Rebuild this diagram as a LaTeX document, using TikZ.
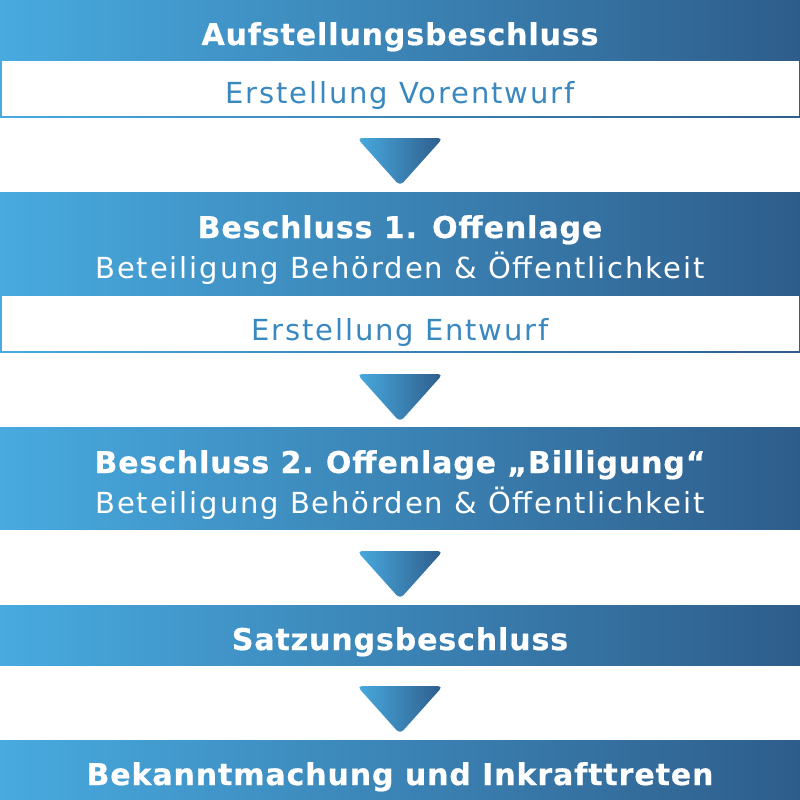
\documentclass[tikz,border=0pt]{standalone}
\usepackage{fontspec}
\setmainfont{DejaVu Sans}
\newfontfamily\headfont[LetterSpace=3.0,BoldFeatures={FakeBold=0.6}]{DejaVu Sans}
\newfontfamily\subfont[LetterSpace=6.5]{DejaVu Sans}
\definecolor{gl}{HTML}{48AADF}
\definecolor{gd}{HTML}{2E5D8B}
\definecolor{tb}{HTML}{3A88C0}
\tikzset{
  bar/.style={left color=gl,right color=gd,minimum width=800,minimum height=#1,
    inner sep=0,outer sep=0,anchor=north,draw=none},
  whitebox/.style={fill=white,minimum width=797,minimum height=#1,inner sep=0,
    outer sep=0,anchor=north,draw=none},
  headtxt/.style={anchor=base,inner sep=0,text=white,font=\headfont\bfseries\fontsize{30}{36}\selectfont},
  subtxt/.style={anchor=base,inner sep=0,text=white,font=\subfont\fontsize{29}{34}\selectfont},
  boxtxt/.style={anchor=base,inner sep=0,text=tb,font=\subfont\fontsize{29}{34}\selectfont},
  downarrow/.style={left color=gl,right color=gd,rounded corners=5}
}
\begin{document}
\begin{tikzpicture}[x=1pt,y=-1pt]
\useasboundingbox (0,0) rectangle (800,800);
% step 1
\node[bar=60] (b1) at (400,0) {};
\node[headtxt] (t1) at (400,45) {Aufstellungsbeschluss};
\node[bar=57] (f1o) at (400,60) {};
\node[whitebox=54] (f1) at (400,61.5) {};
\node[boxtxt] (t1b) at (400,103) {Erstellung Vorentwurf};
\shade[downarrow] (400,138) -- (443,138) -- (400,186) -- (357,138) -- cycle;
% step 2
\node[bar=102] (b2) at (400,192) {};
\node[headtxt] (t2) at (400,238) {Beschluss 1. Offenlage};
\node[subtxt] (t2s) at (400,278) {Beteiligung Behörden \& Öffentlichkeit};
\node[bar=58] (f2o) at (400,294) {};
\node[whitebox=55] (f2) at (400,295.5) {};
\node[boxtxt] (t2b) at (400,340) {Erstellung Entwurf};
\shade[downarrow] (400,374) -- (443,374) -- (400,422) -- (357,374) -- cycle;
% step 3
\node[bar=102] (b3) at (400,427) {};
\node[headtxt] (t3) at (400,473) {Beschluss 2.\kern-3pt{} Offenlage „Billigung“};
\node[subtxt] (t3s) at (400,513) {Beteiligung Behörden \& Öffentlichkeit};
\shade[downarrow] (400,551) -- (443,551) -- (400,599) -- (357,551) -- cycle;
% step 4
\node[bar=60] (b4) at (400,605) {};
\node[headtxt] (t4) at (400,650) {Satzungsbeschluss};
\shade[downarrow] (400,686) -- (443,686) -- (400,734) -- (357,686) -- cycle;
% step 5
\node[bar=60] (b5) at (400,740) {};
\node[headtxt] (t5) at (400,785) {Bekanntmachung und Inkrafttreten};
\end{tikzpicture}
\end{document}
